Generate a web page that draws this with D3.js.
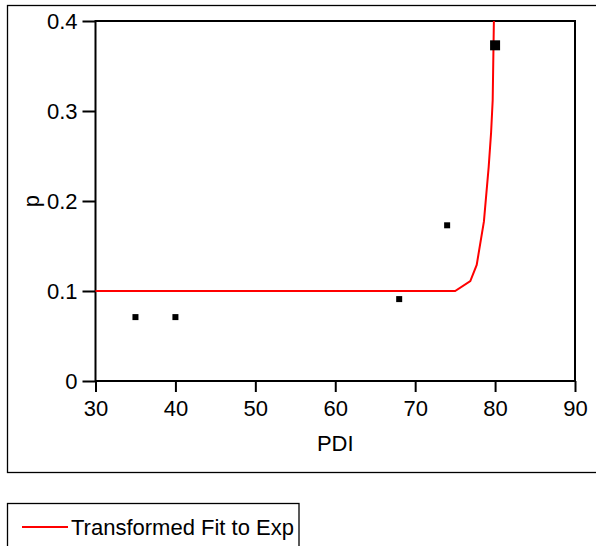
<!DOCTYPE html>
<html>
<head>
<meta charset="utf-8">
<script src="https://cdn.jsdelivr.net/npm/d3@7"></script>
<style>
  body { margin: 0; background: white; }
  text { font-family: 'Liberation Sans', Arial, sans-serif; }
</style>
</head>
<body>
<script>
const FONT_SIZE = 22
const RED = '#ff0000'

// points
const pdi = [35, 40, 68, 74, 80]
const pVals = [0.071, 0.071, 0.091, 0.173, 0.373]
const markSize = [6, 6, 6, 6, 10]

// transformed fit curve
const fitX = [30, 75, 76.9, 77.7, 78.6, 79.2, 79.5, 79.7, 79.85]
const fitY = [0.1, 0.1, 0.111, 0.129, 0.177, 0.238, 0.276, 0.312, 0.4]

const xTicks = [30, 40, 50, 60, 70, 80, 90]
const yTicks = [0, 0.1, 0.2, 0.3, 0.4]

const width = 596, height = 546

const svg = d3.select('body').append('svg')
    .attr('width', width).attr('height', height)

// outer frame
svg.append('rect').attr('x', 7.5).attr('y', 5.5).attr('width', 600).attr('height', 467)
    .attr('fill', 'none').attr('stroke', '#000').attr('stroke-width', 1.3)

const x = d3.scaleLinear().domain([30, 90]).range([95.5, 575])
const y = d3.scaleLinear().domain([0, 0.4]).range([381, 21])

// plot box
svg.append('rect').attr('x', x(30)).attr('y', y(0.4))
    .attr('width', x(90) - x(30)).attr('height', y(0) - y(0.4))
    .attr('fill', 'none').attr('stroke', '#000').attr('stroke-width', 2)

const xAxis = svg.append('g').attr('transform', `translate(0,${y(0)})`)
    .call(d3.axisBottom(x).tickValues(xTicks).tickFormat(d3.format('d')).tickSize(11).tickSizeOuter(0))
xAxis.select('.domain').remove()
xAxis.selectAll('line').attr('stroke-width', 2)
xAxis.selectAll('text').attr('font-size', FONT_SIZE).attr('fill', '#000')
    .attr('font-family', "'Liberation Sans', Arial, sans-serif").attr('y', 35).attr('dy', 0)

const yAxis = svg.append('g').attr('transform', `translate(${x(30)},0)`)
    .call(d3.axisLeft(y).tickValues(yTicks).tickFormat(d => d === 0 ? '0' : d3.format('.1f')(d)).tickSize(13).tickSizeOuter(0))
yAxis.select('.domain').remove()
yAxis.selectAll('line').attr('stroke-width', 2)
yAxis.selectAll('text').attr('font-size', FONT_SIZE).attr('fill', '#000')
    .attr('font-family', "'Liberation Sans', Arial, sans-serif").attr('x', -18)

// axis titles
svg.append('text').attr('x', (x(30) + x(90)) / 2).attr('y', 451)
    .attr('text-anchor', 'middle').attr('font-size', FONT_SIZE).text('PDI')
svg.append('text').attr('transform', `translate(39,${y(0.2)}) rotate(-90)`)
    .attr('text-anchor', 'middle').attr('font-size', FONT_SIZE).text('p')

// fit line
const fit = fitX.map((d, i) => [d, fitY[i]])
svg.append('path').datum(fit)
    .attr('d', d3.line().x(d => x(d[0])).y(d => y(d[1])))
    .attr('fill', 'none').attr('stroke', RED).attr('stroke-width', 2)

// points
svg.append('g').selectAll('rect').data(pdi).join('rect')
    .attr('x', (d, i) => x(d) - markSize[i] / 2)
    .attr('y', (d, i) => y(pVals[i]) - markSize[i] / 2)
    .attr('width', (d, i) => markSize[i]).attr('height', (d, i) => markSize[i])
    .attr('fill', '#000')

// legend
svg.append('rect').attr('x', 7.5).attr('y', 503.5).attr('width', 291.5).attr('height', 60)
    .attr('fill', 'none').attr('stroke', '#000').attr('stroke-width', 1.3)
svg.append('line').attr('x1', 22).attr('x2', 68).attr('y1', 527).attr('y2', 527)
    .attr('stroke', RED).attr('stroke-width', 2)
svg.append('text').attr('x', 71).attr('y', 535).attr('font-size', FONT_SIZE)
    .text('Transformed Fit to Exp')
</script>
</body>
</html>
